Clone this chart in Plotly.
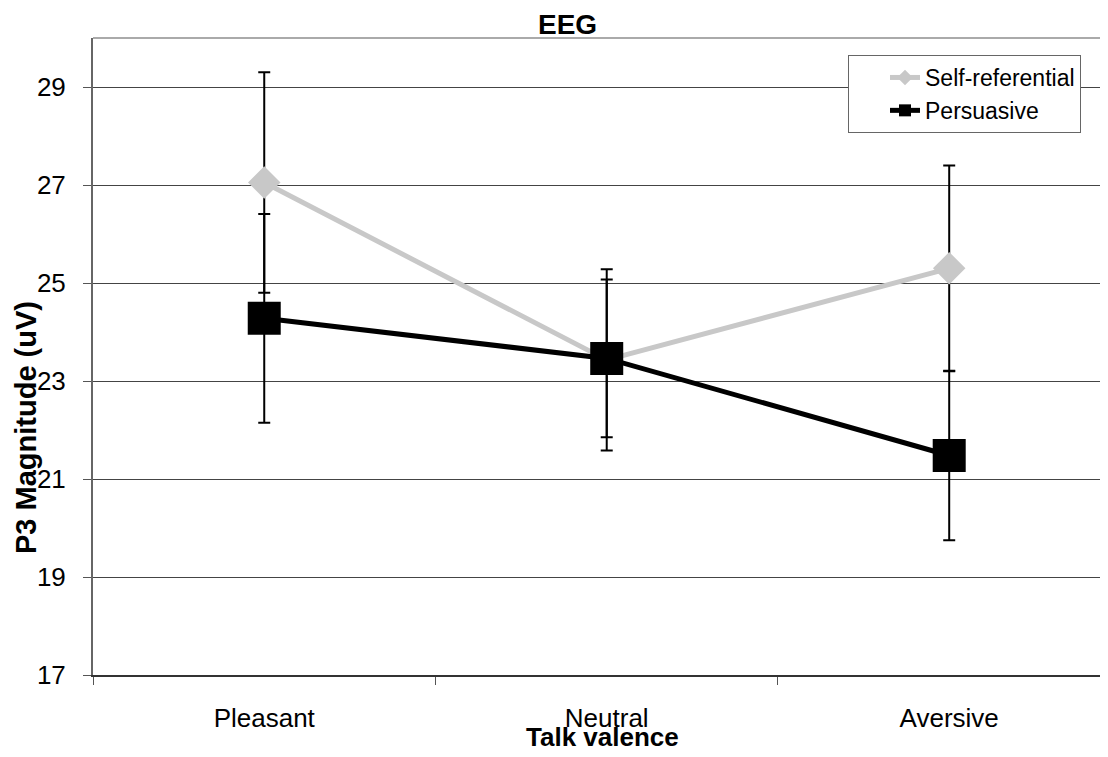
import plotly.graph_objects as go

categories = ["Pleasant", "Neutral", "Aversive"]
self_ref = [27.05, 23.43, 25.30]
self_err = [2.25, 1.85, 2.10]
persuasive = [24.28, 23.46, 21.48]
pers_err = [2.13, 1.61, 1.73]
y_ticks = [17, 19, 21, 23, 25, 27, 29]

OFF = 8  # page body margin
W, H = 1108, 757
L, R, T, B = 85, 0, 30, 90
pw, ph = W - L - R, H - T - B

def px(x):
    return (x - OFF - L) / pw

def py(y):
    return (H - B - (y - OFF)) / ph

FONT = "Liberation Sans, Arial, Helvetica, sans-serif"

fig = go.Figure()
fig.add_trace(go.Scatter(
    x=categories, y=self_ref, name="Self-referential", mode="lines+markers",
    line=dict(color="#c8c8c8", width=5),
    marker=dict(symbol="diamond", size=25, color="#c8c8c8"),
    error_y=dict(type="data", array=self_err, visible=True, color="black", thickness=2, width=6),
))
fig.add_trace(go.Scatter(
    x=categories, y=persuasive, name="Persuasive", mode="lines+markers",
    line=dict(color="black", width=5),
    marker=dict(symbol="square", size=33, color="black"),
    error_y=dict(type="data", array=pers_err, visible=True, color="black", thickness=2, width=6),
))

fig.update_layout(
    width=W, height=H,
    margin=dict(l=L, r=R, t=T, b=B, pad=0),
    paper_bgcolor="white", plot_bgcolor="white",
    font=dict(family=FONT, color="black"),
    showlegend=True,
    legend=dict(
        x=px(848), y=py(55), xanchor="left", yanchor="top",
        bgcolor="white", bordercolor="#666", borderwidth=1,
        font=dict(size=23, family=FONT), itemsizing="constant",
        tracegroupgap=0, indentation=36,
    ),
    xaxis=dict(
        type="category", range=[-0.5, 2.487],
        showgrid=False, showline=True, linecolor="#333", linewidth=2,
        ticks="outside", tickson="boundaries", ticklen=8, tickcolor="#555", tickwidth=1,
        tickfont=dict(size=26, family=FONT), ticklabelstandoff=19,
        zeroline=False,
    ),
    yaxis=dict(
        range=[17, 30], tickvals=y_ticks,
        showgrid=True, gridcolor="#444", gridwidth=1.4,
        showline=True, linecolor="#666", linewidth=2,
        ticks="outside", ticklen=8, tickcolor="#555", tickwidth=1,
        tickfont=dict(size=26, family=FONT), ticklabelstandoff=12,
        zeroline=False,
    ),
    shapes=[dict(type="line", xref="paper", yref="paper", x0=0, x1=1, y0=1, y1=1,
                 line=dict(color="#aaaaaa", width=2))],
    annotations=[
        dict(text="<b>EEG</b>", xref="paper", yref="paper", x=px(567), y=py(25),
             xanchor="center", yanchor="middle", showarrow=False,
             font=dict(size=28, family=FONT, color="black")),
        dict(text="<b>Talk valence</b>", xref="paper", yref="paper", x=px(602), y=py(737),
             xanchor="center", yanchor="middle", showarrow=False,
             font=dict(size=26, family=FONT, color="black")),
        dict(text="<b>P3 Magnitude (uV)</b>", xref="paper", yref="paper", x=px(26), y=py(428),
             xanchor="center", yanchor="middle", showarrow=False, textangle=-90,
             font=dict(size=29, family=FONT, color="black")),
    ],
)

fig.write_html("out.html")
